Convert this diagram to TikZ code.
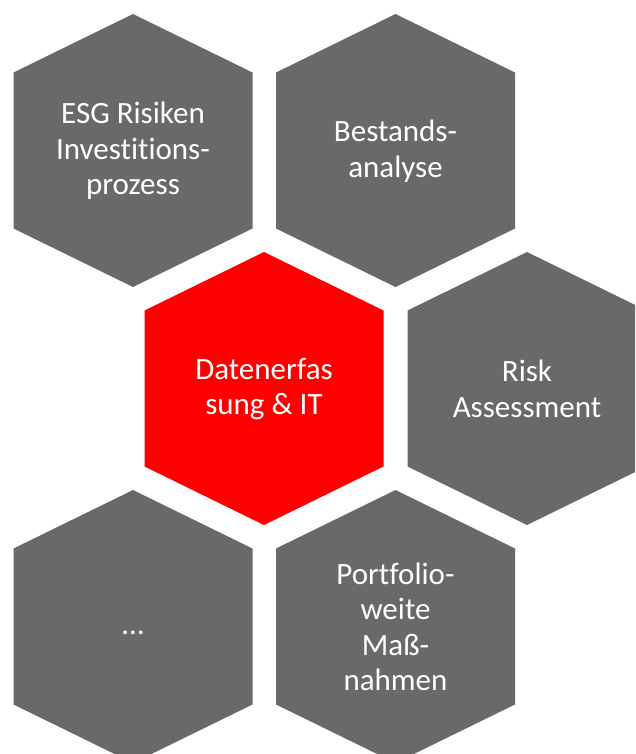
\documentclass[tikz,border=0pt]{standalone}
\usepackage{fontspec}
\setmainfont{Carlito}[Ligatures=NoCommon]
\definecolor{hexgray}{RGB}{105,105,105}
\definecolor{hexred}{RGB}{255,0,0}
\newcommand\myhex[3]{\fill[#3] (#1,#2) +(0,-136.5) -- +(119.5,-78) -- +(119.5,78) -- +(0,136.5) -- +(-119.5,78) -- +(-119.5,-78) -- cycle;}
\tikzset{
  hextext/.style={text=white, align=center, inner sep=0pt, font=\fontsize{31}{35.5}\selectfont}
}
\begin{document}
\begin{tikzpicture}[x=1pt,y=-1pt]
\useasboundingbox (0,0) rectangle (635,754);
\clip (0,0) rectangle (635,754);
\myhex{133}{150.5}{hexgray}
\myhex{395.5}{150.5}{hexgray}
\myhex{264}{388.5}{hexred}
\myhex{527}{388.5}{hexgray}
\myhex{133}{626.5}{hexgray}
\myhex{395.5}{626.5}{hexgray}
\node[hextext] (esg) at (133,151) {ESG Risiken\\Investitions-\\prozess};
\node[hextext] (best) at (395.5,151) {Bestands-\\analyse};
\node[hextext] (daten) at (264,389) {Datenerfas\\sung \& IT};
\node[hextext] (risk) at (527,389) {Risk\\Assessment};
\node[hextext] (dots) at (133,633) {…};
\node[hextext] (port) at (395.5,627) {Portfolio-\\weite\\Maß-\\nahmen};
\end{tikzpicture}
\end{document}
